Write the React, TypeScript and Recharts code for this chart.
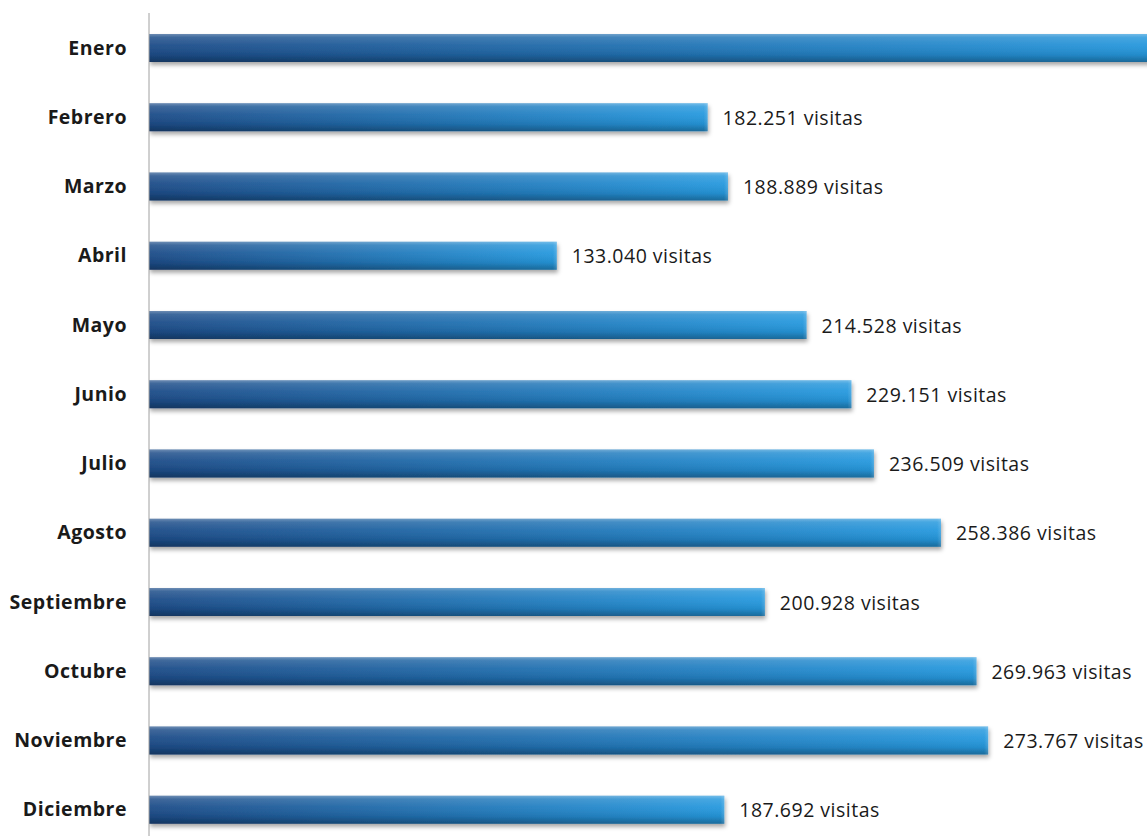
import React from 'react';
import { BarChart, Bar, XAxis, YAxis, LabelList } from 'recharts';

const months = ['Enero', 'Febrero', 'Marzo', 'Abril', 'Mayo', 'Junio', 'Julio', 'Agosto', 'Septiembre', 'Octubre', 'Noviembre', 'Diciembre'];
const visits = [333000, 182251, 188889, 133040, 214528, 229151, 236509, 258386, 200928, 269963, 273767, 187692];
const xDomainMax = 325600;
const suffix = ' visitas';

const CHART_W = 1147;

const data = months.map((m, i) => ({ month: m, visitas: visits[i] }));

const fmt = (v: number) => String(v).replace(/\B(?=(\d{3})+(?!\d))/g, '.') + suffix;

const BarShape = (props: any) => {
  const { x, y, width, height } = props;
  if (!width || width <= 0) return null;
  return (
    <g filter="url(#barShadow)">
      <rect x={x} y={y} width={width} height={height} fill="url(#hGrad)" />
      <rect x={x} y={y} width={width} height={height} fill="url(#vGrad)" />
      <rect x={x + width - 4} y={y} width={4} height={height} fill="url(#capGrad)" />
    </g>
  );
};

const ValueLabel = (props: any) => {
  const { x, y, width, height, value } = props;
  const lx = Number(x) + Number(width) + 15;
  if (lx >= CHART_W) return null;
  return (
    <text
      x={lx}
      y={Number(y) + Number(height) / 2}
      dominantBaseline="central"
      fill="#1a1a1a"
      fontSize={19.5}
      letterSpacing={0.5}
      fontFamily="Open Sans"
    >
      {fmt(Number(value))}
    </text>
  );
};

export default function App() {
  return (
    <div style={{ position: 'fixed', left: 0, top: 0, width: 1147, height: 836, overflow: 'hidden', background: '#fff' }}>
      <BarChart
        width={CHART_W}
        height={860}
        data={data}
        layout="vertical"
        margin={{ top: 13, right: 0, left: 0, bottom: 16 }}
      >
        <defs>
          <linearGradient id="hGrad" x1="0" y1="0" x2="1" y2="0">
            <stop offset="0%" stopColor="#1d4c88" />
            <stop offset="100%" stopColor="#2699de" />
          </linearGradient>
          <linearGradient id="vGrad" x1="0" y1="0" x2="0" y2="1">
            <stop offset="0%" stopColor="#ffffff" stopOpacity={0.35} />
            <stop offset="12%" stopColor="#ffffff" stopOpacity={0.15} />
            <stop offset="40%" stopColor="#ffffff" stopOpacity={0.05} />
            <stop offset="75%" stopColor="#000000" stopOpacity={0.08} />
            <stop offset="100%" stopColor="#000000" stopOpacity={0.3} />
          </linearGradient>
          <linearGradient id="capGrad" x1="0" y1="0" x2="1" y2="0">
            <stop offset="0%" stopColor="#ffffff" stopOpacity={0} />
            <stop offset="100%" stopColor="#ffffff" stopOpacity={0.15} />
          </linearGradient>
          <filter id="barShadow" x="-5%" y="-30%" width="110%" height="170%">
            <feDropShadow dx="1" dy="3" stdDeviation="2" floodColor="#000" floodOpacity="0.35" />
          </filter>
        </defs>
        <XAxis type="number" hide domain={[0, xDomainMax]} allowDataOverflow />
        <YAxis
          type="category"
          dataKey="month"
          width={149}
          tickLine={false}
          tickSize={0}
          tickMargin={22}
          axisLine={{ stroke: '#a0a0a0', strokeWidth: 1 }}
          tick={{ fill: '#1a1a1a', fontSize: 19.5, fontWeight: 700, fontFamily: 'Open Sans', letterSpacing: 0.5 }}
          interval={0}
        />
        <Bar dataKey="visitas" barSize={28} isAnimationActive={false} shape={<BarShape />}>
          <LabelList dataKey="visitas" content={<ValueLabel />} />
        </Bar>
      </BarChart>
    </div>
  );
}
